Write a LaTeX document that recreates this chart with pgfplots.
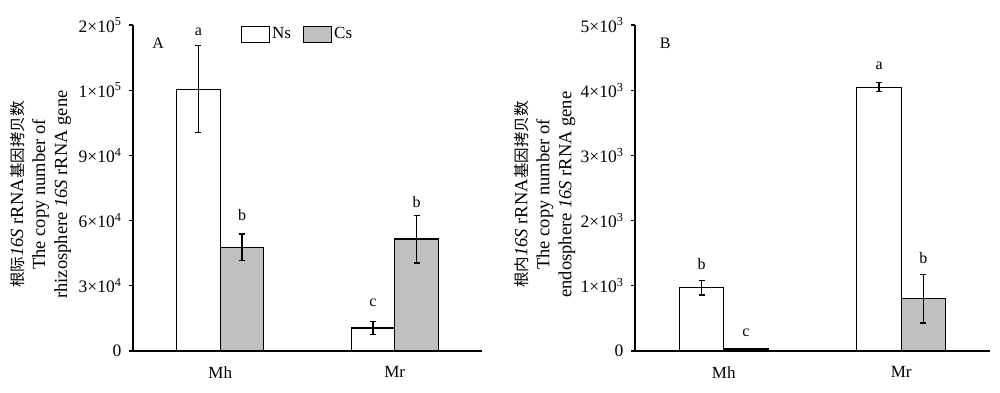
\documentclass[border=0pt]{standalone}
\usepackage{pgfplots}
\pgfplotsset{compat=1.18}
\usepackage{pgfplotstable}
\usepackage{fontspec}
\setmainfont{Liberation Serif}
\newfontfamily\cjkf{Noto Sans CJK SC}
\newcommand{\cjk}{\cjkf\fontsize{15.5}{22}\selectfont}
\pgfplotstableread{
x y e
0 120500 20000
1 10600 3000
}\ANs
\pgfplotstableread{
x y e
0 47800 6000
1 51500 11000
}\ACs
\pgfplotstableread{
x y e
0 970 110
1 4044 70
}\BNs
\pgfplotstableread{
x y e
0 30 0
1 800 370
}\BCs
\definecolor{cgray}{RGB}{192,192,192}
\begin{document}
\fontsize{16}{19}\selectfont
\begin{tikzpicture}[x=1pt,y=1pt]
\useasboundingbox (0,0) rectangle (1000,392);
\pgfplotsset{
 mybar/.style={
  scale only axis, height=326pt,
  ymin=0, scaled y ticks=false,
  axis x line*=bottom, axis y line*=left,
  axis line style={line width=1.4pt,-},
  xmin=-0.5, xmax=1.5, xtick={0,1}, xticklabels={Mh,Mr},
  xtick style={draw=none},
  ytick style={line width=1.2pt, black},
  tick align=outside, major tick length=4pt,
  ybar=0pt, bar width=0.25,
  xticklabel style={yshift=-6pt, font=\fontsize{17}{19}\selectfont},
  yticklabel style={xshift=-2pt, font=\fontsize{17.5}{19}\selectfont},
  every axis y label/.style={rotate=90, anchor=center, align=center, font=\fontsize{18.5}{22}\selectfont},
  legend style={draw=none, fill=none, legend columns=2, font=\fontsize{17}{19}\selectfont,
    /tikz/every even column/.append style={column sep=10pt}},
 },
 nsbar/.style={fill=white, draw=black, line width=1.2pt,
   error bars/.cd, y dir=both, y explicit,
   error bar style={line width=1.2pt, black},
   error mark options={rotate=90, mark size=3pt, line width=1.2pt, black}},
 csbar/.style={fill=cgray, draw=black, line width=1.2pt,
   error bars/.cd, y dir=both, y explicit,
   error bar style={line width=1.2pt, black},
   error mark options={rotate=90, mark size=3pt, line width=1.2pt, black}},
}
% Panel A
\begin{axis}[mybar, at={(133pt,41pt)}, anchor=south west, width=349pt,
  ymax=150000,
  ytick={0,30000,60000,90000,120000,150000},
  yticklabels={0, 3×10\textsuperscript{4}, 6×10\textsuperscript{4}, 9×10\textsuperscript{4}, 1×10\textsuperscript{5}, 2×10\textsuperscript{5}},
  ylabel={{\cjk 根际}\textit{16S} rRNA{\cjk 基因拷贝数}\\The copy number of\\rhizosphere \textit{16S} rRNA gene},
  ylabel style={at={(axis description cs:-0.265,0.48)}},
  legend style={at={(0.30,1.005)}, anchor=north west},
]
\addlegendimage{legend image code/.code={\draw[fill=white, line width=1.2pt] (0pt,-8pt) rectangle (28pt,8pt);}}
\addlegendentry{Ns}
\addlegendimage{legend image code/.code={\draw[fill=cgray, line width=1.2pt] (0pt,-8pt) rectangle (28pt,8pt);}}
\addlegendentry{Cs}
\addplot[nsbar] table[x=x,y=y,y error=e] {\ANs};
\addplot[csbar] table[x=x,y=y,y error=e] {\ACs};
\node at (axis cs:-0.125,147000) {a};
\node at (axis cs:0.125,62600) {b};
\node at (axis cs:0.875,22100) {c};
\node at (axis cs:1.125,68600) {b};
\node at (rel axis cs:0.072,0.945) {A};
\end{axis}
% Panel B
\begin{axis}[mybar, at={(635pt,41pt)}, anchor=south west, width=355pt,
  ymax=5000,
  ytick={0,1000,2000,3000,4000,5000},
  yticklabels={0, 1×10\textsuperscript{3}, 2×10\textsuperscript{3}, 3×10\textsuperscript{3}, 4×10\textsuperscript{3}, 5×10\textsuperscript{3}},
  ylabel={{\cjk 根内}\textit{16S} rRNA{\cjk 基因拷贝数}\\The copy number of\\endosphere \textit{16S} rRNA gene},
  ylabel style={at={(axis description cs:-0.254,0.48)}},
]
\addplot[nsbar] table[x=x,y=y,y error=e] {\BNs};
\addplot[csbar] table[x=x,y=y,y error=e] {\BCs};
\node at (axis cs:-0.125,1334) {b};
\node at (axis cs:0.125,281) {c};
\node at (axis cs:0.875,4371) {a};
\node at (axis cs:1.125,1422) {b};
\node at (rel axis cs:0.085,0.945) {B};
\end{axis}
\end{tikzpicture}
\end{document}
